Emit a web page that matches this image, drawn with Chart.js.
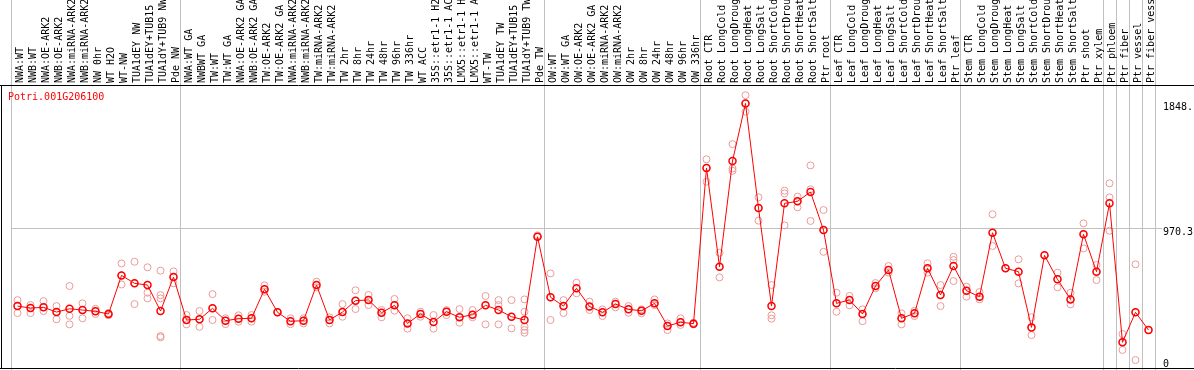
<!DOCTYPE html>
<html>
<head>
<meta charset="utf-8">
<script src="https://cdn.jsdelivr.net/npm/chart.js@4/dist/chart.umd.min.js"></script>
<style>
  html, body { margin: 0; padding: 0; background: #fff; }
  #wrap { width: 1194px; height: 370px; }
</style>
</head>
<body>
<div id="wrap"><canvas id="myChart" width="1194" height="370"></canvas></div>
<script>
// sample names, left to right
const categories = [
  'NWA:WT', 'NWB:WT', 'NWA:OE-ARK2', 'NWB:OE-ARK2', 'NWA:miRNA-ARK2', 'NWB:miRNA-ARK2', 'NW 0hr', 'WT H2O', 'WT-NW',
  'TUA1dEY NW', 'TUA1dEY+TUB15 NW', 'TUA1dY+TUB9 NW', 'Pde NW',
  'NWA:WT GA', 'NWBWT GA', 'TW:WT', 'TW:WT GA', 'NWA:OE-ARK2 GA', 'NWB:OE-ARK2 GA', 'TW:OE-ARK2', 'TW:OE-ARK2 GA',
  'NWA:miRNA-ARK2', 'NWB:miRNA-ARK2', 'TW:miRNA-ARK2', 'TW:miRNA-ARK2', 'TW 2hr', 'TW 8hr', 'TW 24hr', 'TW 48hr',
  'TW 96hr', 'TW 336hr', 'WT ACC', '35S::etr1-1 H2O', '35S::etr1-1 ACC', 'LMX5::etr1-1 H2O', 'LMX5::etr1-1 ACC',
  'WT-TW', 'TUA1dEY TW', 'TUA1dEY+TUB15 TW', 'TUA1dY+TUB9 TW', 'Pde TW',
  'OW:WT', 'OW:WT GA', 'OW:OE-ARK2', 'OW:OE-ARK2 GA', 'OW:miRNA-ARK2', 'OW:miRNA-ARK2', 'OW 2hr', 'OW 8hr',
  'OW 24hr', 'OW 48hr', 'OW 96hr', 'OW 336hr',
  'Root CTR', 'Root LongCold', 'Root LongDrought', 'Root LongHeat', 'Root LongSalt', 'Root ShortCold',
  'Root ShortDrought', 'Root ShortHeat', 'Root ShortSalt', 'Ptr root',
  'Leaf CTR', 'Leaf LongCold', 'Leaf LongDrought', 'Leaf LongHeat', 'Leaf LongSalt', 'Leaf ShortCold',
  'Leaf ShortDrought', 'Leaf ShortHeat', 'Leaf ShortSalt', 'Ptr leaf',
  'Stem CTR', 'Stem LongCold', 'Stem LongDrought', 'Stem LongHeat', 'Stem LongSalt', 'Stem ShortCold',
  'Stem ShortDrought', 'Stem ShortHeat', 'Stem ShortSalt', 'Ptr shoot', 'Ptr xylem',
  'Ptr phloem', 'Ptr fiber', 'Ptr vessel', 'Ptr fiber vessel'
];

// mean expression per sample
const means = [
  422, 408, 413, 380, 403, 394, 385, 366, 638, 582, 570, 387, 626,
  324, 329, 406, 319, 333, 336, 540, 378, 315, 319, 570, 324, 380, 460, 465, 375,
  427, 300, 366, 310, 382, 343, 361, 427, 394, 347, 324, 910,
  484, 422, 547, 419, 378, 436, 399, 389, 441, 282, 308, 298,
  1394, 699, 1443, 1848, 1112, 422, 1145, 1159, 1225, 957,
  441, 465, 366, 563, 676, 336, 371, 688, 500, 704,
  530, 488, 938, 688, 664, 272, 779, 610, 469, 927, 664,
  1145, 167, 378, 253
];

// individual replicates per sample
const replicates = [
  [464, 373, 422], [429, 373, 408], [457, 387, 413], [422, 329, 380], [563, 293, 353], [441, 336, 394],
  [403, 366, 385], [373, 357, 366], [722, 574, 638], [734, 436, 582], [695, 516, 476], [671, 499, 476, 211, 202],
  [666, 582, 626],
  [359, 293, 324], [387, 276, 329], [506, 324, 406], [336, 295, 319], [357, 312, 333], [359, 312, 336],
  [568, 523, 540], [378, 378], [336, 295, 315], [336, 300, 319], [594, 554, 570], [343, 300, 324],
  [436, 347, 380], [533, 401, 460], [500, 429, 465], [394, 343, 375], [472, 390, 427], [336, 263, 300],
  [382, 347, 366], [359, 263, 310], [394, 359, 382], [401, 305, 343], [394, 343, 361], [493, 293, 427],
  [464, 429, 293], [464, 265, 347], [469, 382, 277, 253, 234], [920, 910],
  [652, 324, 484], [464, 373, 422], [586, 512, 547], [453, 394, 419], [399, 352, 378], [453, 413, 436],
  [422, 375, 399], [399, 371, 389], [469, 429, 441], [300, 253, 282], [336, 289, 308], [305, 293, 298],
  [1455, 1297, 1394], [797, 624, 699], [1562, 1391, 1374], [1906, 1790, 1848], [1187, 1023, 1112],
  [570, 357, 333], [1234, 1215, 990], [1192, 1117, 1159], [1412, 1244, 1021], [1098, 804, 957],
  [516, 382, 441], [493, 427, 465], [399, 315, 366], [584, 547, 563], [704, 657, 676], [371, 293, 336],
  [389, 352, 371], [723, 657, 688], [570, 422, 500], [769, 746, 598],
  [558, 488, 530], [521, 469, 488], [1068, 845, 938], [688], [751, 582, 664], [343, 218, 272], [779],
  [657, 554, 610], [516, 434, 469], [1004, 828, 927], [711, 605, 664],
  [1286, 1187, 952], [225, 113, 167], [716, 42, 378], [253]
];

const yTicks = [0, 970.3, 1848];
const yTickLabels = [['0', ''], '970.3', '1848.'];
const groupStarts = [0, 13, 41, 53, 63, 73, 84, 85, 86, 87];
const geneName = 'Potri.001G206100';

const MONO = '"DejaVu Sans Mono", "Liberation Mono", monospace';

// one scatter-like dataset per replicate slot, aligned with the categories
const maxReps = Math.max(...replicates.map(r => r.length));
const repDatasets = [];
for (let k = 0; k < maxReps; k++) {
  repDatasets.push({
    label: 'replicate ' + (k + 1),
    data: replicates.map(r => (r[k] === undefined ? null : r[k])),
    showLine: false,
    pointRadius: 3.5,
    pointBorderWidth: 1,
    pointBorderColor: '#ec9a9a',
    pointBackgroundColor: 'rgba(0,0,0,0)'
  });
}

// frame lines and gene name
const framePlugin = {
  id: 'frame',
  afterDraw(chart) {
    const ctx = chart.ctx;
    const top = chart.chartArea.top;
    ctx.save();
    ctx.strokeStyle = '#000';
    ctx.lineWidth = 1;
    ctx.beginPath();
    ctx.moveTo(0, top - 0.5); ctx.lineTo(chart.width, top - 0.5);
    ctx.moveTo(0, 368.5); ctx.lineTo(chart.width, 368.5);
    ctx.moveTo(1.5, top - 0.5); ctx.lineTo(1.5, 369);
    ctx.stroke();
    ctx.fillStyle = '#ff0000';
    ctx.font = '10px ' + MONO;
    ctx.textBaseline = 'middle';
    ctx.fillText(geneName, 8, 97);
    ctx.restore();
  }
};

new Chart(document.getElementById('myChart'), {
  type: 'line',
  data: {
    labels: categories,
    datasets: [
      {
        label: 'mean',
        data: means,
        borderColor: '#ff0000',
        borderWidth: 1,
        pointRadius: 3.5,
        pointBorderWidth: 1.5,
        pointBorderColor: '#ff0000',
        pointBackgroundColor: 'rgba(0,0,0,0)',
        tension: 0
      },
      ...repDatasets
    ]
  },
  options: {
    responsive: false,
    animation: false,
    spanGaps: false,
    layout: { autoPadding: false, padding: { left: 11, right: 0, top: 0, bottom: 0 } },
    plugins: { legend: { display: false }, tooltip: { enabled: false } },
    scales: {
      x: {
        type: 'category',
        position: 'top',
        offset: true,
        border: { display: false },
        grid: {
          offset: true,
          drawOnChartArea: true,
          tickLength: 86,
          lineWidth: 1,
          color: (c) => {
            if (c.index === undefined) return '#c0c0c0';
            return groupStarts.includes(c.index) ? '#c0c0c0' : 'rgba(0,0,0,0)';
          }
        },
        ticks: {
          autoSkip: false,
          minRotation: 90,
          maxRotation: 90,
          padding: -83,
          labelOffset: 15,
          color: '#000',
          font: { family: MONO, size: 10 }
        },
        afterFit: (scale) => { scale.height = 86; }
      },
      y: {
        position: 'right',
        min: -28,
        max: 1971,
        border: { display: false },
        afterBuildTicks: (scale) => { scale.ticks = yTicks.map(v => ({ value: v })); },
        grid: {
          tickLength: 7,
          color: (c) => (c.tick && c.tick.value === 970.3) ? '#c0c0c0' : 'rgba(0,0,0,0)'
        },
        ticks: {
          padding: 1,
          labelOffset: 4,
          color: '#000',
          font: { family: MONO, size: 10 },
          callback: (v, i) => yTickLabels[i]
        },
        afterFit: (scale) => {
          scale.width = 39;
          scale.paddingTop = 0;
          scale.paddingBottom = 0;
        }
      }
    }
  },
  plugins: [framePlugin]
});
</script>
</body>
</html>
